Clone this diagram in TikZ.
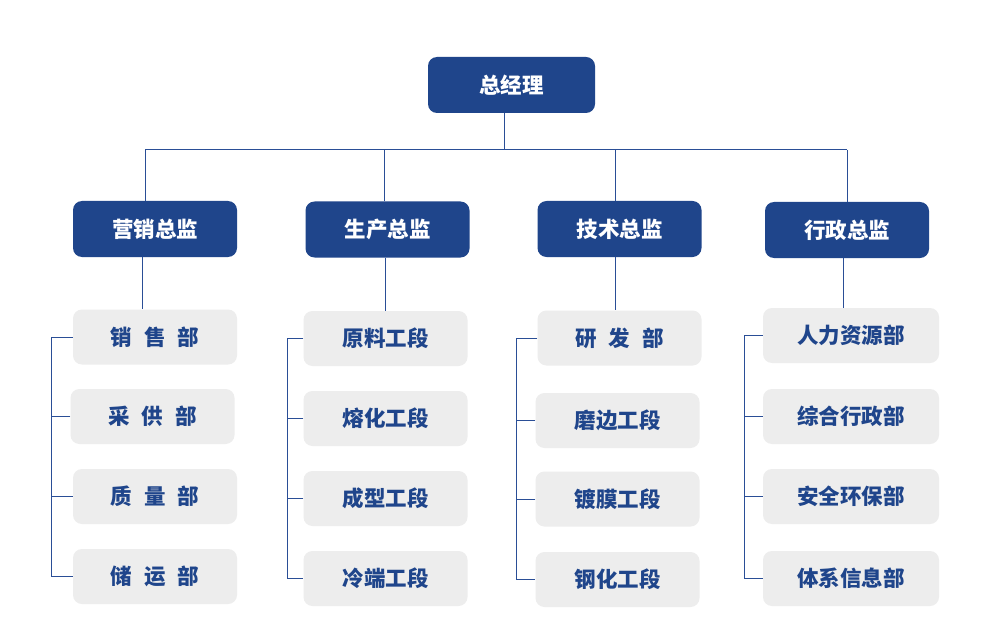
\documentclass[tikz,border=0pt]{standalone}
\usepackage{fontspec}
\newfontfamily\cjk{Noto Sans CJK SC}
\definecolor{navy}{HTML}{1F458B}
\definecolor{boxgray}{HTML}{EDEDED}
\definecolor{linkblue}{HTML}{2A4E96}
\newcommand{\gapsp}{\hspace{12pt}}
\begin{document}
\begin{tikzpicture}[x=1pt,y=-1pt,
  topbox/.style={fill=navy,rounded corners=9pt,minimum width=167pt,minimum height=56pt,inner sep=0pt,text=white,font=\cjk\bfseries\fontsize{21.5pt}{24pt}\selectfont},
  dirbox/.style={fill=navy,rounded corners=9pt,minimum width=164pt,minimum height=56pt,inner sep=0pt,text=white,font=\cjk\bfseries\fontsize{21.5pt}{24pt}\selectfont},
  deptbox/.style={fill=boxgray,rounded corners=9pt,minimum width=164pt,minimum height=55pt,inner sep=0pt,text=navy,font=\cjk\bfseries\fontsize{21.5pt}{24pt}\selectfont},
  link/.style={draw=linkblue,line width=1pt}]
\useasboundingbox[fill=white] (0,0) rectangle (1000,636);
% top
\node[topbox] (top) at (511.5,85) {总经理};
% directors
\node[dirbox] (d1) at (155,229) {营销总监};
\node[dirbox] (d2) at (387.5,229.5) {生产总监};
\node[dirbox] (d3) at (619.5,229) {技术总监};
\node[dirbox] (d4) at (847,230) {行政总监};
% departments column 1
\node[deptbox] (g11) at (155,337) {销\gapsp 售\gapsp 部};
\node[deptbox] (g12) at (152.5,416.5) {采\gapsp 供\gapsp 部};
\node[deptbox] (g13) at (155,496.5) {质\gapsp 量\gapsp 部};
\node[deptbox] (g14) at (155,576.5) {储\gapsp 运\gapsp 部};
% column 2
\node[deptbox] (g21) at (385.5,338.5) {原料工段};
\node[deptbox] (g22) at (385.5,418.5) {熔化工段};
\node[deptbox] (g23) at (385.5,498.5) {成型工段};
\node[deptbox] (g24) at (385.5,578.5) {冷端工段};
% column 3
\node[deptbox] (g31) at (619.5,338) {研\gapsp 发\gapsp 部};
\node[deptbox] (g32) at (617.5,420.5) {磨边工段};
\node[deptbox] (g33) at (617.5,499) {镀膜工段};
\node[deptbox] (g34) at (617.5,579.5) {钢化工段};
% column 4
\node[deptbox,minimum width=176pt] (g41) at (851,335.5) {人力资源部};
\node[deptbox,minimum width=176pt] (g42) at (851,416.5) {综合行政部};
\node[deptbox,minimum width=176pt] (g43) at (851,496.5) {安全环保部};
\node[deptbox,minimum width=176pt] (g44) at (851,578.5) {体系信息部};
% bus coordinates
\coordinate (bus0) at (504,150);
\coordinate (bus1) at (145,150);
\coordinate (bus2) at (384,150);
\coordinate (bus3) at (615,150);
\coordinate (bus4) at (847,150);
\coordinate (v1) at (142,0);
\coordinate (v2) at (385,0);
\coordinate (v3) at (615,0);
\coordinate (v4) at (843,0);
\coordinate (b1) at (51,0);
\coordinate (b2) at (287,0);
\coordinate (b3) at (516,0);
\coordinate (b4) at (744,0);
\draw[link] (top.south -| bus0) -- (bus0);
\draw[link] (bus1) -- (bus4);
\foreach \i in {1,2,3,4}{
  \draw[link] (bus\i) -- (d\i.north -| bus\i);
  \draw[link] (d\i.south -| v\i) -- (g\i1.north -| v\i);
  \draw[link] (g\i1.west) -- (g\i1.west -| b\i) -- (g\i4.west -| b\i) -- (g\i4.west);
  \draw[link] (g\i2.west) -- (g\i2.west -| b\i);
  \draw[link] (g\i3.west) -- (g\i3.west -| b\i);
}
\end{tikzpicture}
\end{document}
